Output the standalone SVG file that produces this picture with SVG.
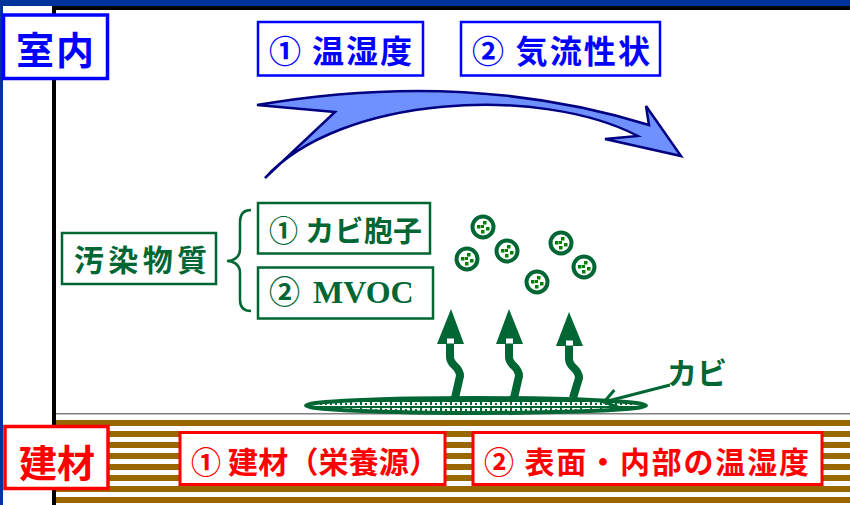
<svg xmlns="http://www.w3.org/2000/svg" width="850" height="505" viewBox="0 0 850 505">
  <defs>
    <style>
      .jp { font-family: "Noto Sans CJK JP", "Noto Sans", sans-serif; font-weight: 700; }
      .serif { font-family: "Liberation Serif", "DejaVu Serif", serif; font-weight: 700; }
      .box-blue { fill: #fff; stroke: #0000ff; stroke-width: 2.5; }
      .box-blue-thick { fill: #fff; stroke: #0000ff; stroke-width: 3.5; }
      .box-green { fill: #fff; stroke: #006633; stroke-width: 2.5; }
      .box-red { fill: #fff; stroke: #ff0000; stroke-width: 3; }
      .box-red-thick { fill: #fff; stroke: #ff0000; stroke-width: 3.5; }
      .t-blue { fill: #0000ff; }
      .t-green { fill: #006633; }
      .t-red { fill: #ff0000; }
      .stem { fill: none; stroke: #006633; stroke-width: 8; }
      .head { fill: #006633; }
    </style>
    <!-- wood grain stripes of the building material -->
    <pattern id="wood" x="0" y="420" width="850" height="11" patternUnits="userSpaceOnUse">
      <rect x="0" y="0" width="850" height="6" fill="#996600"/>
    </pattern>
    <!-- speckled texture of the mould colony -->
    <pattern id="mold-tex" x="0" y="401" width="10" height="6" patternUnits="userSpaceOnUse">
      <rect width="10" height="6" fill="#fff"/>
      <rect x="0" y="0" width="10" height="1" fill="#006633"/>
      <rect x="0" y="1" width="2" height="3" fill="#006633"/>
      <rect x="5" y="2" width="2" height="2" fill="#006633"/>
      <rect x="0" y="5" width="10" height="1" fill="#006633"/>
    </pattern>
    <!-- a single spore -->
    <g id="spore">
      <circle r="10.5" fill="#fff" stroke="#006633" stroke-width="4"/>
      <g fill="#008000">
        <rect x="-6" y="-2" width="3.5" height="3.5"/>
        <rect x="0" y="-6" width="3.5" height="3.5"/>
        <rect x="3" y="0" width="3.5" height="3.5"/>
        <rect x="-2" y="3" width="3.5" height="3.5"/>
        <rect x="-2" y="-2" width="3" height="3"/>
      </g>
    </g>
    <marker id="open-head" markerUnits="userSpaceOnUse" viewBox="-16 -11 18 22" markerWidth="18" markerHeight="22" refX="0" refY="0" orient="auto">
      <path d="M-13,-9 L0,0 L-13,9" fill="none" stroke="#006633" stroke-width="3" stroke-linejoin="miter"/>
    </marker>
  </defs>

  <!-- frame -->
  <g id="frame">
    <rect x="0" y="0" width="850" height="505" fill="#fff"/>
    <rect x="0" y="0" width="850" height="6" fill="#003399"/>
    <rect x="0" y="0" width="3" height="505" fill="#003399"/>
    <rect x="52" y="6" width="798" height="4" fill="#000"/>
    <rect x="52" y="6" width="4" height="499" fill="#000"/>
  </g>

  <!-- building material layer -->
  <g id="material">
    <rect x="56" y="420" width="794" height="85" fill="url(#wood)"/>
    <rect x="56" y="413" width="794" height="1.5" fill="#808080"/>
  </g>

  <!-- indoor side -->
  <g id="room-label">
    <rect class="box-blue-thick" x="3.5" y="15" width="104" height="63.5"/>
    <text class="jp t-blue" x="16" y="64" font-size="38" textLength="78" lengthAdjust="spacing">室内</text>
  </g>
  <g id="temp-humidity">
    <rect class="box-blue" x="258" y="22" width="165" height="53.5"/>
    <text class="jp t-blue" x="269" y="63" font-size="32" textLength="143" lengthAdjust="spacing">① 温湿度</text>
  </g>
  <g id="airflow">
    <rect class="box-blue" x="461" y="22" width="199" height="53.5"/>
    <text class="jp t-blue" x="472" y="63" font-size="32" textLength="178" lengthAdjust="spacing">② 気流性状</text>
  </g>

  <!-- pollutants -->
  <g id="pollutant">
    <rect class="box-green" x="62" y="233" width="154" height="51"/>
    <text class="jp t-green" x="74" y="271" font-size="30" textLength="133" lengthAdjust="spacing">汚染物質</text>
  </g>
  <g id="spores-label">
    <rect class="box-green" x="258" y="203" width="172" height="50.5"/>
    <text class="jp t-green" x="269" y="242" font-size="29" textLength="153" lengthAdjust="spacing">① カビ胞子</text>
  </g>
  <g id="mvoc-label">
    <rect class="box-green" x="258" y="267.5" width="175" height="51"/>
    <text class="t-green" y="303"><tspan class="jp" x="269" font-size="31">②</tspan><tspan class="serif" x="313" font-size="32">MVOC</tspan></text>
  </g>

  <g id="spores">
    <use href="#spore" x="483" y="227"/>
    <use href="#spore" x="467" y="259"/>
    <use href="#spore" x="507" y="251"/>
    <use href="#spore" x="561" y="243"/>
    <use href="#spore" x="584" y="267"/>
    <use href="#spore" x="537" y="282"/>
  </g>

  <g id="mold-label">
    <text class="jp t-green" x="667" y="384" font-size="30">カビ</text>
  </g>

  <!-- material labels -->
  <g id="material-label">
    <rect class="box-red-thick" x="5" y="426.5" width="103" height="62"/>
    <text class="jp t-red" x="19" y="477" font-size="38" textLength="76" lengthAdjust="spacing">建材</text>
  </g>
  <g id="nutrient">
    <rect class="box-red" x="180" y="432.5" width="265" height="52"/>
    <text class="jp t-red" x="191" y="473" font-size="30" textLength="248" lengthAdjust="spacing">① 建材（栄養源）</text>
  </g>
  <g id="surface">
    <rect class="box-red" x="473" y="432.5" width="349" height="52"/>
    <text class="jp t-red" x="484" y="473" font-size="30" textLength="325" lengthAdjust="spacing">② 表面・内部の温湿度</text>
  </g>

  <!-- connectors -->
  <g id="connectors">
    <!-- indoor airflow -->
    <path d="M257,105 Q467,69 649,125 L646,106 L681,156 L605,139 L638,136 C540,85 340,95 265,178 L335,112 Z" fill="#6f91ff" stroke="#000080" stroke-width="2.5" stroke-linejoin="miter"/>

    <!-- brace grouping the pollutants -->
    <path d="M251,210 Q240,210 240,222 L240,249 Q240,260 227,261 Q240,262 240,273 L240,300 Q240,311 251,311" fill="none" stroke="#006633" stroke-width="2.5"/>

    <!-- emissions rising from the colony -->
    <g id="emission-1">
      <path class="stem" d="M450,343 L450,357 C450,366 460,366 460,376 L455,398"/>
      <polygon class="head" points="451,309 437,344 464,344"/>
      <rect x="447" y="338.5" width="7" height="5" fill="#fff"/>
    </g>
    <g id="emission-2">
      <path class="stem" d="M509,343 L509,357 C509,366 519,366 519,376 L514,398"/>
      <polygon class="head" points="509,309 496,344 523,344"/>
      <rect x="506" y="338.5" width="7" height="5" fill="#fff"/>
    </g>
    <g id="emission-3">
      <path class="stem" d="M569,345 L569,359 C569,368 579,368 579,378 L573,398"/>
      <polygon class="head" points="569,312 556,346 583,346"/>
      <rect x="566" y="340.5" width="7" height="5" fill="#fff"/>
    </g>

    <!-- mould colony on the surface -->
    <ellipse id="mold" cx="476" cy="405.5" rx="170" ry="7.5" fill="url(#mold-tex)" stroke="#006633" stroke-width="4"/>

    <!-- leader to the colony -->
    <path d="M670,385 L604,402" fill="none" stroke="#006633" stroke-width="3" marker-end="url(#open-head)"/>
  </g>
</svg>
